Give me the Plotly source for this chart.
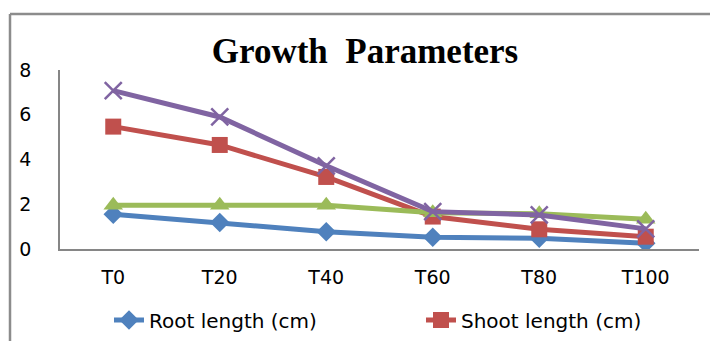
import plotly.graph_objects as go

categories = ["T0", "T20", "T40", "T60", "T80", "T100"]
root_length = [1.55, 1.18, 0.77, 0.53, 0.48, 0.26]
shoot_length = [5.47, 4.65, 3.22, 1.45, 0.88, 0.55]
series3 = [1.95, 1.95, 1.95, 1.62, 1.57, 1.33]
series4 = [7.08, 5.9, 3.72, 1.67, 1.52, 0.9]
y_ticks = [0, 2, 4, 6, 8]

W, H = 710, 341
L, R, T, B = 60, 11, 70, 92
pw, ph = W - L - R, H - T - B


def px_x(x):
    return (x - L) / pw


def px_y(y):
    return (H - B - y) / ph


fig = go.Figure()
fig.add_trace(go.Scatter(
    x=categories, y=root_length, name="Root length (cm)", mode="lines+markers",
    line=dict(color="#4F81BD", width=5), legend="legend",
    marker=dict(symbol="diamond", size=15, color="#4F81BD")))
fig.add_trace(go.Scatter(
    x=categories, y=shoot_length, name="Shoot length (cm)", mode="lines+markers",
    line=dict(color="#C0504D", width=5), legend="legend2",
    marker=dict(symbol="square", size=16, color="#C0504D")))
fig.add_trace(go.Scatter(
    x=categories, y=series3, mode="lines+markers", showlegend=False,
    line=dict(color="#9BBB59", width=5),
    marker=dict(symbol="triangle-up", size=17, color="#9BBB59")))
fig.add_trace(go.Scatter(
    x=categories, y=series4, mode="lines+markers", showlegend=False,
    line=dict(color="#8064A2", width=5),
    marker=dict(symbol="x-thin-open", size=17, line=dict(color="#8064A2", width=2.5))))

border = "#8C8C8C"
fig.add_shape(type="line", xref="paper", yref="paper",
              x0=px_x(10), x1=px_x(760), y0=px_y(14), y1=px_y(14),
              line=dict(color=border, width=2.5))
fig.add_shape(type="line", xref="paper", yref="paper",
              x0=px_x(10), x1=px_x(10), y0=px_y(14), y1=px_y(400),
              line=dict(color=border, width=2.5))

legend_common = dict(orientation="h", xanchor="left", yanchor="middle",
                     font=dict(size=20), bgcolor="rgba(0,0,0,0)", itemwidth=30)

fig.update_layout(
    width=W, height=H,
    margin=dict(l=L, r=R, t=T, b=B, autoexpand=False),
    paper_bgcolor="white", plot_bgcolor="white",
    title=dict(text="<b>Growth\u00a0 Parameters</b>", x=px_x(365), xref="paper", xanchor="center",
               y=1 - 51 / H, yref="container", yanchor="middle",
               font=dict(family="Liberation Serif", size=35, color="black")),
    font=dict(family="DejaVu Sans", color="black"),
    xaxis=dict(showline=True, linecolor="#868686", linewidth=1.5, showgrid=False,
               zeroline=False, ticks="", tickfont=dict(size=19), ticklabelstandoff=10,
               range=[-0.5, 5.5]),
    yaxis=dict(showline=True, linecolor="#868686", linewidth=1.5, showgrid=False,
               zeroline=False, ticks="", tickfont=dict(size=19), range=[0, 8],
               tickvals=y_ticks, ticklabelstandoff=23),
    legend=dict(x=px_x(109), y=px_y(320), **legend_common),
    legend2=dict(x=px_x(421), y=px_y(320), **legend_common),
    showlegend=True,
)

fig.write_html("out.html", config={"displayModeBar": False},
               post_script="document.body.style.margin='0px';document.body.style.overflow='hidden';")
